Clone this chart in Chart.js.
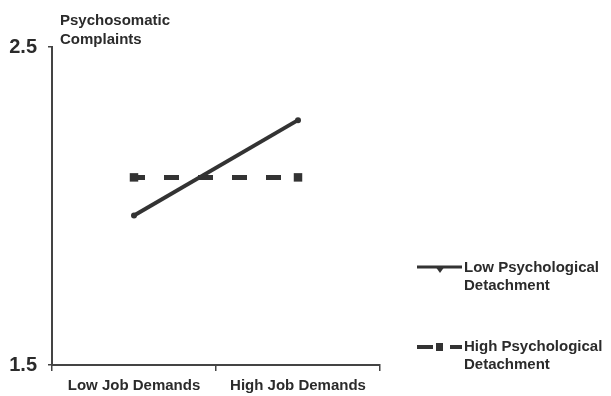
<!DOCTYPE html>
<html>
<head>
<meta charset="utf-8">
<script src="https://cdn.jsdelivr.net/npm/chart.js@4/dist/chart.umd.min.js"></script>
<style>
  html, body { margin: 0; padding: 0; background: #fff; }
  #wrap { width: 611px; height: 396px; position: relative; }
</style>
</head>
<body>
<div id="wrap"><canvas id="chart" width="611" height="396"></canvas></div>
<script>
const categories = ['Low Job Demands', 'High Job Demands'];
const lowDetachment = [1.97, 2.27];
const highDetachment = [2.09, 2.09];
const yTicks = [1.5, 2.5];
const yTitle = ['Psychosomatic', 'Complaints'];
const legendLow = ['Low Psychological', 'Detachment'];
const legendHigh = ['High Psychological', 'Detachment'];

const ink = '#2b2b2b';
const lineCol = '#333';
const font = 'bold 15px "Liberation Sans", Arial, sans-serif';

// title above the y axis and the legend on the right
const extras = {
    id: 'extras',
    afterDraw(chart) {
        const c = chart.ctx;
        const area = chart.chartArea;
        c.save();
        c.fillStyle = ink;
        c.font = font;
        c.textBaseline = 'middle';
        c.textAlign = 'left';
        c.fillText(yTitle[0], area.left + 8, 21);
        c.fillText(yTitle[1], area.left + 8, 40);

        // low detachment entry
        c.strokeStyle = lineCol;
        c.lineWidth = 3;
        c.beginPath();
        c.moveTo(417, 267);
        c.lineTo(462, 267);
        c.stroke();
        c.fillStyle = lineCol;
        c.beginPath();
        c.moveTo(435, 266);
        c.lineTo(445, 266);
        c.lineTo(440, 273);
        c.closePath();
        c.fill();
        c.fillStyle = ink;
        c.fillText(legendLow[0], 464, 268);
        c.fillText(legendLow[1], 464, 286);

        // high detachment entry
        c.lineWidth = 4;
        c.beginPath();
        c.moveTo(417, 347);
        c.lineTo(433, 347);
        c.moveTo(450, 347);
        c.lineTo(462, 347);
        c.stroke();
        c.fillStyle = lineCol;
        c.fillRect(436, 343, 7, 8);
        c.fillStyle = ink;
        c.fillText(legendHigh[0], 464, 347);
        c.fillText(legendHigh[1], 464, 365);
        c.restore();
    }
};

new Chart(document.getElementById('chart').getContext('2d'), {
    type: 'line',
    data: {
        labels: categories,
        datasets: [
            {
                label: legendLow.join(' '),
                data: lowDetachment,
                borderColor: lineCol,
                backgroundColor: lineCol,
                borderWidth: 4,
                pointStyle: 'circle',
                pointRadius: 3,
                pointBorderWidth: 0,
                tension: 0
            },
            {
                label: legendHigh.join(' '),
                data: highDetachment,
                borderColor: lineCol,
                backgroundColor: lineCol,
                borderWidth: 5,
                borderDash: [15, 19],
                borderDashOffset: 4,
                pointStyle: 'rect',
                pointRadius: 6,
                pointBorderWidth: 0,
                tension: 0
            }
        ]
    },
    options: {
        responsive: false,
        animation: false,
        layout: { padding: { left: 0, right: 231, top: 47, bottom: 0 } },
        scales: {
            x: {
                offset: true,
                grid: { display: true, offset: true, drawOnChartArea: false, tickLength: 6, color: '#444', lineWidth: 1.5 },
                border: { color: '#444', width: 2 },
                ticks: { color: ink, font: { family: '"Liberation Sans", Arial, sans-serif', size: 15, weight: 'bold' }, padding: 6, maxRotation: 0 },
                afterFit: (scale) => { scale.height = 31; }
            },
            y: {
                min: 1.5,
                max: 2.5,
                afterBuildTicks: (scale) => { scale.ticks = yTicks.map(v => ({ value: v })); },
                grid: { display: true, drawOnChartArea: false, tickLength: 4, color: '#444', lineWidth: 1.5 },
                border: { color: '#444', width: 2 },
                ticks: {
                    color: ink,
                    font: { family: '"Liberation Sans", Arial, sans-serif', size: 20, weight: 'bold' },
                    padding: 11,
                    callback: (v) => Number(v).toFixed(1)
                },
                afterFit: (scale) => { scale.width = 52; }
            }
        },
        plugins: {
            legend: { display: false },
            tooltip: { enabled: false }
        }
    },
    plugins: [extras]
});
</script>
</body>
</html>
